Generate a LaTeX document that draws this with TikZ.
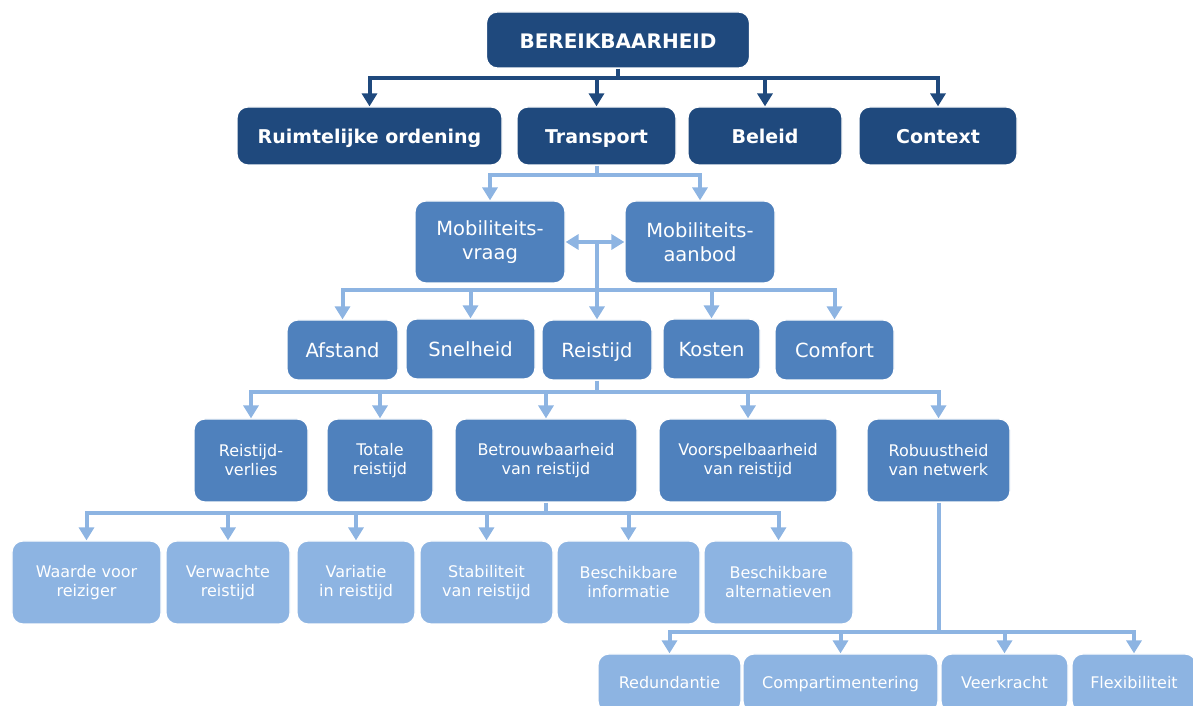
\documentclass[tikz,border=0pt]{standalone}
\usepackage{fontspec}
\setmainfont{DejaVu Sans}
\usetikzlibrary{arrows.meta}
\definecolor{donkerblauw}{RGB}{31,73,125}
\definecolor{middenblauw}{RGB}{79,129,189}
\definecolor{lichtblauw}{RGB}{141,180,226}

\begin{document}
\begin{tikzpicture}[x=1bp,y=1bp,
    doos/.style={rounded corners=11bp, draw=white, line width=1.2bp, text=white, align=center, inner sep=2bp},
    eenregel/.style 2 args={text height=#1, text depth=#2},
    donker/.style={doos, eenregel={17bp}{2.5bp}, fill=donkerblauw, font=\bfseries\fontsize{19bp}{22bp}\selectfont, minimum height=58bp},
    groot/.style={doos, fill=middenblauw, font=\fontsize{19.5bp}{24bp}\selectfont},
    klein/.style={doos, fill=middenblauw, font=\fontsize{16bp}{19bp}\selectfont, minimum height=83bp},
    licht/.style={klein, fill=lichtblauw},
    lijn/.style={line width=4bp, draw=#1},
    pijl/.style={lijn=#1, -{Triangle[width=15bp,length=13bp]}},
    ]
    \useasboundingbox (0,0) rectangle (1193,706);
    \clip (0,0) rectangle (1193,706);

    %niveau 0 en 1
    \node[donker, minimum width=263bp, minimum height=56bp, eenregel={19bp}{2bp}, font=\bfseries\fontsize{20bp}{22bp}\selectfont] (bereik) at (618,666) {BEREIKBAARHEID};
    \node[donker, minimum width=265bp] (ruimte) at (369.5,570) {Ruimtelijke ordening};
    \node[donker, minimum width=159bp] (transport) at (596.5,570) {Transport};
    \node[donker, minimum width=154bp] (beleid) at (765,570) {Beleid};
    \node[donker, minimum width=158bp] (context) at (938,570) {Context};
    \coordinate (bus0) at (618,628);
    \draw[lijn=donkerblauw] (bereik.south) -- (bus0);
    \foreach \n in {ruimte,transport,beleid,context}
        \draw[pijl=donkerblauw] (bus0) -| (\n.north);

    %mobiliteit
    \node[groot, minimum width=150bp, minimum height=82bp] (vraag) at (490,464) {Mobiliteits-\\vraag};
    \node[groot, minimum width=150bp, minimum height=82bp] (aanbod) at (700,464) {Mobiliteits-\\aanbod};
    \coordinate (bus1) at (596.5,531);
    \draw[lijn=lichtblauw] (transport.south) -- (bus1);
    \draw[pijl=lichtblauw] (bus1) -| (vraag.north);
    \draw[pijl=lichtblauw] (bus1) -| (aanbod.north);
    \draw[pijl=lichtblauw, {Triangle[width=15bp,length=13bp]}-{Triangle[width=15bp,length=13bp]}] (vraag.east) -- (aanbod.west); %wisselwerking
    \coordinate (kruis) at (597,464);

    %niveau 3
    \node[groot, eenregel={17.5bp}{2.5bp}, minimum width=111bp, minimum height=60bp] (afstand) at (342.5,356) {Afstand};
    \node[groot, eenregel={17.5bp}{2.5bp}, minimum width=129bp, minimum height=60bp] (snelheid) at (470.5,357) {Snelheid};
    \node[groot, eenregel={17.5bp}{2.5bp}, minimum width=110bp, minimum height=60bp] (reistijd) at (597,356) {Reistijd};
    \node[groot, eenregel={17.5bp}{2.5bp}, minimum width=97bp, minimum height=60bp] (kosten) at (711.5,357) {Kosten};
    \node[groot, eenregel={17.5bp}{2.5bp}, minimum width=119bp, minimum height=60bp] (comfort) at (834.5,356) {Comfort};
    \coordinate (bus2) at (597,416);
    \draw[pijl=lichtblauw] (kruis) -- (reistijd.north);
    \foreach \n in {afstand,snelheid,kosten,comfort}
        \draw[pijl=lichtblauw] (bus2) -| (\n.north);

    %niveau 4
    \node[klein, minimum width=114bp] (verlies) at (251,245.5) {Reistijd-\\verlies};
    \node[klein, minimum width=106bp] (totale) at (380,245.5) {Totale\\reistijd};
    \node[klein, minimum width=182bp] (betrouw) at (546,245.5) {Betrouwbaarheid\\van reistijd};
    \node[klein, minimum width=178bp] (voorspel) at (748,245.5) {Voorspelbaarheid\\van reistijd};
    \node[klein, minimum width=143bp] (robuust) at (938.5,245.5) {Robuustheid\\van netwerk};
    \coordinate (bus3) at (597,314);
    \draw[lijn=lichtblauw] (reistijd.south) -- (bus3);
    \foreach \n in {verlies,totale,betrouw,voorspel,robuust}
        \draw[pijl=lichtblauw] (bus3) -| (\n.north);

    %niveau 5
    \node[licht, minimum width=149bp] (waarde) at (86.5,123.5) {Waarde voor\\reiziger};
    \node[licht, minimum width=124bp] (verwacht) at (228,123.5) {Verwachte\\reistijd};
    \node[licht, minimum width=118bp] (variatie) at (356,123.5) {Variatie\\in reistijd};
    \node[licht, minimum width=133bp] (stabiel) at (486.5,123.5) {Stabiliteit\\van reistijd};
    \node[licht, minimum width=143bp] (informatie) at (628.5,123.5) {Beschikbare\\informatie};
    \node[licht, minimum width=149bp] (alternatief) at (778.5,123.5) {Beschikbare\\alternatieven};
    \coordinate (bus4) at (546,193);
    \draw[lijn=lichtblauw] (betrouw.south) -- (bus4);
    \foreach \n in {waarde,verwacht,variatie,stabiel,informatie,alternatief}
        \draw[pijl=lichtblauw] (bus4) -| (\n.north);

    %niveau 6
    \node[licht, eenregel={14bp}{2bp}, minimum width=143bp, minimum height=58bp] (redund) at (669.5,23) {Redundantie};
    \node[licht, eenregel={14bp}{2bp}, minimum width=195bp, minimum height=58bp] (compart) at (840.5,23) {Compartimentering};
    \node[licht, eenregel={14bp}{2bp}, minimum width=127bp, minimum height=58bp] (veerkracht) at (1004.5,23) {Veerkracht};
    \node[licht, eenregel={14bp}{2bp}, minimum width=124bp, minimum height=58bp] (flexi) at (1134,23) {Flexibiliteit};
    \coordinate (bus5) at (938.5,74);
    \draw[lijn=lichtblauw] (robuust.south) -- (bus5);
    \foreach \n in {redund,compart,veerkracht,flexi}
        \draw[pijl=lichtblauw] (bus5) -| (\n.north);
\end{tikzpicture}
\end{document}
